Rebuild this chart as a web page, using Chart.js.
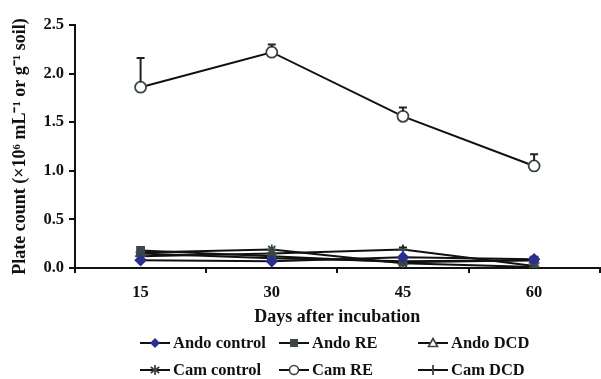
<!DOCTYPE html>
<html>
<head>
<meta charset="utf-8">
<script src="https://cdn.jsdelivr.net/npm/chart.js@4.4.1/dist/chart.umd.min.js"></script>
<style>
  html, body { margin: 0; padding: 0; background: #fff; }
  #wrap { position: relative; width: 601px; height: 379px; overflow: hidden; }
  canvas { position: absolute; left: 0; top: 0; }
  .lg { position: absolute; display: flex; align-items: center; height: 20px;
        font-family: "Liberation Serif", "Times New Roman", serif; font-weight: bold;
        font-size: 16.5px; color: #111; white-space: nowrap; }
  .lg svg { margin-right: 3px; }
</style>
</head>
<body>
<div id="wrap">
  <canvas id="c" width="607" height="379"></canvas>
  <div id="legend"></div>
</div>
<script>
// ---- data ----
const days = ['15', '30', '45', '60'];
const andoControl = [0.08, 0.07, 0.11, 0.09];
const andoRE      = [0.18, 0.12, 0.06, 0.08];
const andoDCD     = [0.15, 0.10, 0.07, 0.08];
const camControl  = [0.16, 0.19, 0.05, 0.01];
const camRE       = [1.86, 2.22, 1.56, 1.05];
const camDCD      = [0.12, 0.15, 0.19, 0.02];
const camREErr    = [0.30, 0.08, 0.09, 0.12];
const camDCDErr   = [0.00, 0.00, 0.02, 0.00];
const yTicks      = [0, 0.5, 1.0, 1.5, 2.0, 2.5];
const seriesNames = ['Ando control', 'Ando RE', 'Ando DCD', 'Cam control', 'Cam RE', 'Cam DCD'];

const MK = '#3b4747';
const NAVY = '#2b2f8f';
const FONT = '"Liberation Serif", "Times New Roman", serif';

function ds(label, data, style, bg, border, r) {
  return {
    label, data,
    borderColor: '#111', borderWidth: 2,
    pointStyle: style, pointRadius: r, pointHoverRadius: r,
    pointBackgroundColor: bg, pointBorderColor: border, pointBorderWidth: 1.8,
    tension: 0, fill: false
  };
}

const errorPlugin = {
  id: 'errbars',
  afterDatasetsDraw(chart) {
    const ctx = chart.ctx;
    const ys = chart.scales.y;
    const sets = [[4, camRE, camREErr, 5], [5, camDCD, camDCDErr, 4]];
    ctx.save();
    ctx.strokeStyle = '#222';
    ctx.lineWidth = 2;
    sets.forEach(([idx, vals, errs, r]) => {
      const meta = chart.getDatasetMeta(idx);
      meta.data.forEach((pt, i) => {
        if (!errs[i]) return;
        const top = ys.getPixelForValue(vals[i] + errs[i]);
        ctx.beginPath();
        ctx.moveTo(pt.x, pt.y - r);
        ctx.lineTo(pt.x, top);
        ctx.moveTo(pt.x - 4, top);
        ctx.lineTo(pt.x + 4, top);
        ctx.stroke();
      });
    });
    ctx.restore();
  }
};

new Chart(document.getElementById('c'), {
  type: 'line',
  data: {
    labels: days,
    datasets: [
      ds(seriesNames[0], andoControl, 'rectRot', NAVY, NAVY, 5),
      ds(seriesNames[1], andoRE, 'rect', MK, MK, 5),
      ds(seriesNames[2], andoDCD, 'triangle', '#fff', MK, 5),
      ds(seriesNames[3], camControl, 'star', MK, MK, 5),
      ds(seriesNames[4], camRE, 'circle', '#fff', MK, 5.5),
      ds(seriesNames[5], camDCD, 'cross', MK, MK, 5)
    ]
  },
  options: {
    responsive: false,
    animation: false,
    layout: { padding: { left: 6, right: 0, top: 25, bottom: 48 } },
    plugins: { legend: { display: false }, tooltip: { enabled: false } },
    scales: {
      x: {
        type: 'category',
        offset: true,
        grid: { offset: true, drawOnChartArea: false, drawTicks: true, tickLength: 5, color: '#111', lineWidth: 2 },
        border: { color: '#111', width: 2 },
        ticks: { color: '#111', padding: 10, font: { family: FONT, size: 16.5, weight: 'bold' } },
        title: { display: true, text: 'Days after incubation', color: '#111',
                 font: { family: FONT, size: 18, weight: 'bold' }, padding: { top: 4, bottom: 3 } },
        afterFit(s) { s.height = 63; }
      },
      y: {
        min: 0, max: 2.5,
        afterBuildTicks(s) { s.ticks = yTicks.map(v => ({ value: v })); },
        grid: { drawOnChartArea: false, drawTicks: true, tickLength: 6, color: '#111', lineWidth: 2 },
        border: { color: '#111', width: 2 },
        ticks: { color: '#111', padding: 5, font: { family: FONT, size: 16.5, weight: 'bold' },
                 callback: v => Number(v).toFixed(1) },
        title: { display: true, text: 'Plate count (×10⁶ mL⁻¹ or g⁻¹ soil)', color: '#111',
                 font: { family: FONT, size: 18, weight: 'bold' }, padding: { top: 4, bottom: 4 } },
        afterFit(s) { s.width = 69; }
      }
    }
  },
  plugins: [errorPlugin]
});

// ---- HTML legend (3 columns x 2 rows) ----
function markerSvg(kind) {
  const c = 15, m = 10;
  let mk = '';
  if (kind === 'rectRot') mk = `<polygon points="${c},${m-5} ${c+5},${m} ${c},${m+5} ${c-5},${m}" fill="${NAVY}"/>`;
  if (kind === 'rect') mk = `<rect x="${c-4}" y="${m-4}" width="8" height="8" fill="${MK}"/>`;
  if (kind === 'triangle') mk = `<polygon points="${c},${m-4.5} ${c+4.5},${m+3.5} ${c-4.5},${m+3.5}" fill="#fff" stroke="${MK}" stroke-width="1.6"/>`;
  if (kind === 'star') mk = `<g stroke="${MK}" stroke-width="1.8"><line x1="${c}" y1="${m-5}" x2="${c}" y2="${m+5}"/><line x1="${c-4.3}" y1="${m-3}" x2="${c+4.3}" y2="${m+3}"/><line x1="${c-4.3}" y1="${m+3}" x2="${c+4.3}" y2="${m-3}"/></g>`;
  if (kind === 'circle') mk = `<circle cx="${c}" cy="${m}" r="4.5" fill="#fff" stroke="${MK}" stroke-width="1.6"/>`;
  if (kind === 'cross') mk = `<g stroke="${MK}" stroke-width="1.8"><line x1="${c}" y1="${m-5}" x2="${c}" y2="${m+5}"/></g>`;
  return `<svg width="30" height="20"><line x1="0" y1="10" x2="30" y2="10" stroke="#111" stroke-width="2"/>${mk}</svg>`;
}
const styles = ['rectRot', 'rect', 'triangle', 'star', 'circle', 'cross'];
const colX = [140, 279, 418];
const rowY = [333, 360];
const lg = document.getElementById('legend');
seriesNames.forEach((name, i) => {
  const d = document.createElement('div');
  d.className = 'lg';
  d.style.left = colX[i % 3] + 'px';
  d.style.top = rowY[Math.floor(i / 3)] + 'px';
  d.innerHTML = markerSvg(styles[i]) + '<span>' + name + '</span>';
  lg.appendChild(d);
});
</script>
</body>
</html>
